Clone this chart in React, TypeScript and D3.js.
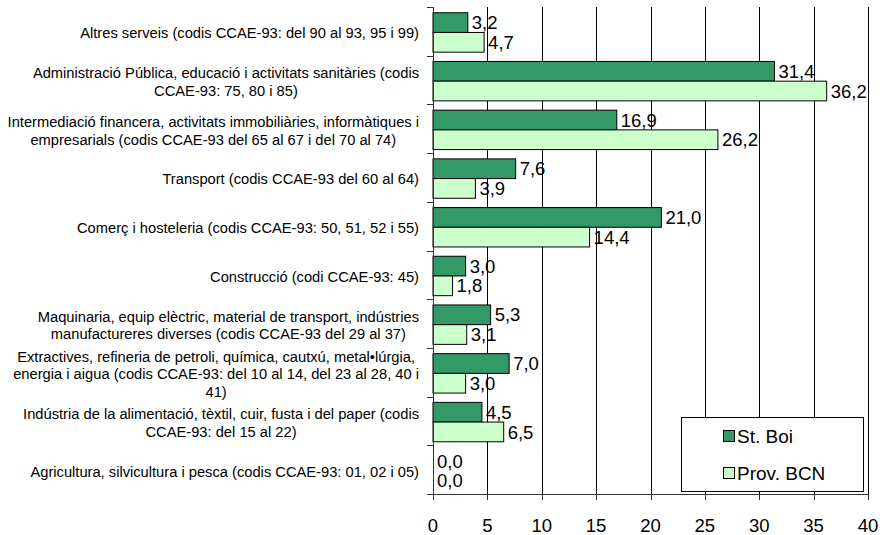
import React, { useEffect, useRef } from "react";
import * as d3 from "d3";

const categories: string[][] = [
  ["Altres serveis (codis CCAE-93: del 90 al 93, 95 i 99)"],
  ["Administració Pública, educació i activitats sanitàries (codis", "CCAE-93: 75, 80 i 85)"],
  ["Intermediació financera, activitats immobiliàries, informàtiques i", "empresarials (codis CCAE-93 del 65 al 67 i del 70 al 74)"],
  ["Transport (codis CCAE-93 del 60 al 64)"],
  ["Comerç i hosteleria (codis CCAE-93: 50, 51, 52 i 55)"],
  ["Construcció (codi CCAE-93: 45)"],
  ["Maquinaria, equip elèctric, material de transport, indústries", "manufactureres diverses (codis CCAE-93 del 29 al 37)"],
  ["Extractives, refineria de petroli, química, cautxú, metal•lúrgia,", "energia i aigua (codis CCAE-93: del 10 al 14, del 23 al 28, 40 i", "41)"],
  ["Indústria de la alimentació, tèxtil, cuir, fusta i del paper (codis", "CCAE-93: del 15 al 22)"],
  ["Agricultura, silvicultura i pesca (codis CCAE-93: 01, 02 i 05)"],
];

const seriesNames = ["St. Boi", "Prov. BCN"];
const stBoi = [3.2, 31.4, 16.9, 7.6, 21.0, 3.0, 5.3, 7.0, 4.5, 0.0];
const provBcn = [4.7, 36.2, 26.2, 3.9, 14.4, 1.8, 3.1, 3.0, 6.5, 0.0];
const xTicks = [0, 5, 10, 15, 20, 25, 30, 35, 40];
const colors = ["#339966", "#CCFFCC"];

const W = 880;
const H = 535;
const FONT = "'Liberation Sans', Arial, sans-serif";

export default function App() {
  const ref = useRef<SVGSVGElement>(null);

  useEffect(() => {
    const svg = d3.select(ref.current!);
    svg.selectAll("*").remove();

    const x = d3.scaleLinear().domain([0, 40]).range([433, 868]);
    const idx = categories.map((_, i) => String(i));
    const y = d3.scaleBand<string>().domain(idx).range([7, 494]).padding(0);
    const ys = d3
      .scaleBand<string>()
      .domain(seriesNames)
      .range([0, y.bandwidth()])
      .paddingInner(0)
      .paddingOuter(0.236)
      .align(0.62);

    const values = [stBoi, provBcn];

    // gridlines
    svg
      .append("g")
      .selectAll("line")
      .data(xTicks.filter((t) => t > 0))
      .join("line")
      .attr("x1", (d) => Math.round(x(d)) + 0.5)
      .attr("x2", (d) => Math.round(x(d)) + 0.5)
      .attr("y1", 7)
      .attr("y2", 494)
      .attr("stroke", "#000")
      .attr("stroke-width", 1);

    // bars
    seriesNames.forEach((s, si) => {
      svg
        .append("g")
        .selectAll("rect")
        .data(values[si])
        .join("rect")
        .attr("x", x(0))
        .attr("y", (_, i) => y(String(i))! + ys(s)!)
        .attr("width", (d) => x(d) - x(0))
        .attr("height", ys.bandwidth())
        .attr("fill", colors[si])
        .attr("stroke", (d) => (d > 0 ? "#000" : "none"))
        .attr("stroke-width", 1);
    });

    // value labels
    seriesNames.forEach((s, si) => {
      svg
        .append("g")
        .selectAll("text")
        .data(values[si])
        .join("text")
        .attr("x", (d) => x(d) + 4)
        .attr("y", (_, i) => y(String(i))! + ys(s)! + ys.bandwidth() / 2 + 6.6)
        .attr("font-family", FONT)
        .attr("font-size", 18.5)
        .attr("fill", "#000")
        .text((d) => d.toFixed(1).replace(".", ","));
    });

    // axes
    svg
      .append("line")
      .attr("x1", 433.5)
      .attr("x2", 433.5)
      .attr("y1", 7)
      .attr("y2", 494)
      .attr("stroke", "#333");
    svg
      .append("line")
      .attr("x1", 433)
      .attr("x2", 868)
      .attr("y1", 494.5)
      .attr("y2", 494.5)
      .attr("stroke", "#333");

    // y ticks
    const bounds = idx.map((k) => y(k)!).concat([494]);
    svg
      .append("g")
      .selectAll("line")
      .data(bounds)
      .join("line")
      .attr("x1", 427)
      .attr("x2", 433)
      .attr("y1", (d) => Math.round(d) + 0.5)
      .attr("y2", (d) => Math.round(d) + 0.5)
      .attr("stroke", "#333");

    // x ticks
    svg
      .append("g")
      .selectAll("line")
      .data(xTicks)
      .join("line")
      .attr("x1", (d) => Math.round(x(d)) + 0.5)
      .attr("x2", (d) => Math.round(x(d)) + 0.5)
      .attr("y1", 494)
      .attr("y2", 500)
      .attr("stroke", "#333");

    svg
      .append("g")
      .selectAll("text")
      .data(xTicks)
      .join("text")
      .attr("x", (d) => x(d))
      .attr("y", 532)
      .attr("text-anchor", "middle")
      .attr("font-family", FONT)
      .attr("font-size", 18.5)
      .attr("fill", "#000")
      .text((d) => String(d));

    // category labels
    const lineH = 17.5;
    const right = 419;
    categories.forEach((lines, i) => {
      const cy = y(String(i))! + y.bandwidth() / 2 + 2;
      const g = svg.append("g");
      const texts = lines.map((ln, li) =>
        g
          .append("text")
          .attr("font-family", FONT)
          .attr("font-size", 14.7)
          .attr("fill", "#000")
          .attr("y", cy - ((lines.length - 1) * lineH) / 2 + li * lineH + 5)
          .text(ln)
      );
      const widths = texts.map((t) => (t.node() as SVGTextElement).getComputedTextLength());
      const maxW = Math.max(...widths);
      texts.forEach((t) => t.attr("text-anchor", "middle").attr("x", right - maxW / 2));
    });

    // legend
    const lg = svg.append("g");
    lg.append("rect")
      .attr("x", 681.5)
      .attr("y", 417.5)
      .attr("width", 182)
      .attr("height", 74)
      .attr("fill", "#fff")
      .attr("stroke", "#000");
    const legY = [436, 473];
    seriesNames.forEach((s, si) => {
      lg.append("rect")
        .attr("x", 723.5)
        .attr("y", legY[si] - 5.5)
        .attr("width", 11)
        .attr("height", 11)
        .attr("fill", colors[si])
        .attr("stroke", "#000");
      lg.append("text")
        .attr("x", 737)
        .attr("y", legY[si] + 6.8)
        .attr("font-family", FONT)
        .attr("font-size", 19)
        .attr("fill", "#000")
        .text(s);
    });
  }, []);

  return (
    <svg
      ref={ref}
      width={W}
      height={H}
      style={{ position: "absolute", left: 0, top: 0, background: "#fff" }}
    />
  );
}
